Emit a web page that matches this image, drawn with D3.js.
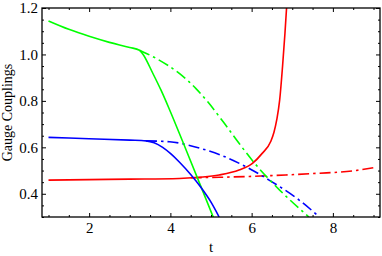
<!DOCTYPE html>
<html>
<head>
<meta charset="utf-8">
<script src="https://cdn.jsdelivr.net/npm/d3@7"></script>
<style>
  body { margin: 0; background: #fff; }
  svg text { font-family: "Liberation Serif", "Times New Roman", serif; fill: #000; }
</style>
</head>
<body>
<div id="chart"></div>
<script>
// --- data ---
const x_ticks = [2, 4, 6, 8]
const y_ticks = [0.4, 0.6, 0.8, 1.0, 1.2]

// green (solid, and dash-dot branch)
const green_t = [1, 1.5, 2, 2.5, 3, 3.24, 3.32, 3.57, 3.77, 3.98, 4.4, 4.75, 5.1]
const green_v = [1.144, 1.108, 1.078, 1.052, 1.030, 1.018, 1.002, 0.918, 0.846, 0.762, 0.583, 0.432, 0.28]
const green_dash_t = [3.24, 3.65, 4.22, 4.63, 4.92, 5.3, 5.7, 6.1, 6.69, 7.41]
const green_dash_v = [1.018, 0.983, 0.918, 0.853, 0.796, 0.71, 0.615, 0.526, 0.416, 0.3]

// blue
const blue_t = [1, 2, 3, 3.4, 3.6, 3.81, 4.0, 4.22, 4.5, 4.75, 5.0, 5.2]
const blue_v = [0.643, 0.637, 0.631, 0.628, 0.62, 0.600, 0.574, 0.537, 0.483, 0.428, 0.364, 0.3]
const blue_dash_t = [3.4, 3.98, 4.75, 5.22, 5.94, 6.43, 7.17, 7.61]
const blue_dash_v = [0.628, 0.624, 0.595, 0.568, 0.509, 0.459, 0.373, 0.309]

// red
const red_t = [1, 2, 3, 4.22, 4.8, 5.2, 5.69, 6.02, 6.26, 6.47, 6.55, 6.62, 6.69, 6.76, 6.82, 6.86]
const red_v = [0.459, 0.461, 0.463, 0.466, 0.472, 0.481, 0.502, 0.531, 0.574, 0.625, 0.665, 0.72, 0.803, 0.946, 1.09, 1.2]
const red_dash_t = [4.5, 5.2, 6.0, 6.84, 7.6, 8.47, 9.0]
const red_dash_v = [0.469, 0.471, 0.475, 0.481, 0.488, 0.498, 0.512]

const svg_width = 382, svg_height = 256
const frame = { left: 42, right: 380, top: 8, bottom: 217 }

const svg = d3.select("#chart").append("svg")
    .attr("width", svg_width)
    .attr("height", svg_height)

const xScale = d3.scaleLinear().domain([0.84, 9.16]).range([frame.left, frame.right])
const yScale = d3.scaleLinear().domain([0.3, 1.2]).range([frame.bottom, frame.top])

svg.append("clipPath").attr("id", "plotclip")
    .append("rect")
    .attr("x", frame.left).attr("y", frame.top)
    .attr("width", frame.right - frame.left).attr("height", frame.bottom - frame.top)

const line = d3.line()
    .x(d => xScale(d[0]))
    .y(d => yScale(d[1]))
    .curve(d3.curveMonotoneX)

const series = [
    { t: red_dash_t, v: red_dash_v, color: "#ff0000", dash: true },
    { t: blue_dash_t, v: blue_dash_v, color: "#0000ff", dash: true },
    { t: green_dash_t, v: green_dash_v, color: "#00ff00", dash: true },
    { t: red_t, v: red_v, color: "#ff0000", dash: false },
    { t: green_t, v: green_v, color: "#00ff00", dash: false },
    { t: blue_t, v: blue_v, color: "#0000ff", dash: false },
]

const plot = svg.append("g").attr("clip-path", "url(#plotclip)")
series.forEach(s => {
    plot.append("path")
        .datum(d3.zip(s.t, s.v))
        .attr("fill", "none")
        .attr("stroke", s.color)
        .attr("stroke-width", 1.6)
        .attr("stroke-dasharray", s.dash ? "11,4,2.5,4" : null)
        .attr("d", line)
})

// frame with inward ticks on every side (mathematica style)
const xMinor = d3.range(1, 9.01, 0.5).filter(t => !x_ticks.includes(t))
const yMinor = d3.range(0.3, 1.201, 0.05).map(v => +v.toFixed(2)).filter(v => !y_ticks.includes(v))

const axes = svg.append("g")
axes.append("g").attr("transform", "translate(0," + frame.bottom + ")")
    .call(d3.axisBottom(xScale).tickValues(x_ticks).tickSizeInner(-4).tickSizeOuter(0).tickPadding(5).tickFormat(d3.format("d")))
axes.append("g").attr("transform", "translate(0," + frame.bottom + ")")
    .call(d3.axisBottom(xScale).tickValues(xMinor).tickSizeInner(-2).tickSizeOuter(0).tickFormat(""))
axes.append("g").attr("transform", "translate(0," + frame.top + ")")
    .call(d3.axisTop(xScale).tickValues(x_ticks).tickSizeInner(-4).tickSizeOuter(0).tickFormat(""))
axes.append("g").attr("transform", "translate(0," + frame.top + ")")
    .call(d3.axisTop(xScale).tickValues(xMinor).tickSizeInner(-2).tickSizeOuter(0).tickFormat(""))
axes.append("g").attr("transform", "translate(" + frame.left + ",0)")
    .call(d3.axisLeft(yScale).tickValues(y_ticks).tickSizeInner(-4).tickSizeOuter(0).tickPadding(4).tickFormat(d3.format(".1f")))
axes.append("g").attr("transform", "translate(" + frame.left + ",0)")
    .call(d3.axisLeft(yScale).tickValues(yMinor).tickSizeInner(-2).tickSizeOuter(0).tickFormat(""))
axes.append("g").attr("transform", "translate(" + frame.right + ",0)")
    .call(d3.axisRight(yScale).tickValues(y_ticks).tickSizeInner(-4).tickSizeOuter(0).tickFormat(""))
axes.append("g").attr("transform", "translate(" + frame.right + ",0)")
    .call(d3.axisRight(yScale).tickValues(yMinor).tickSizeInner(-2).tickSizeOuter(0).tickFormat(""))

axes.selectAll(".domain").remove()
axes.selectAll("line").attr("stroke", "#000").attr("stroke-width", 1)
axes.selectAll("text").style("font-size", "15px").style("font-family", "Liberation Serif")

svg.append("rect")
    .attr("x", frame.left).attr("y", frame.top)
    .attr("width", frame.right - frame.left).attr("height", frame.bottom - frame.top)
    .attr("fill", "none")
    .attr("stroke", "#000")
    .attr("stroke-width", 1.3)

// axis titles
svg.append("text")
    .attr("x", (frame.left + frame.right) / 2)
    .attr("y", 252)
    .attr("text-anchor", "middle")
    .style("font-size", "15px")
    .text("t")

svg.append("text")
    .attr("transform", "translate(12," + ((frame.top + frame.bottom) / 2) + ") rotate(-90)")
    .attr("text-anchor", "middle")
    .style("font-size", "14px")
    .text("Gauge Couplings")
</script>
</body>
</html>
